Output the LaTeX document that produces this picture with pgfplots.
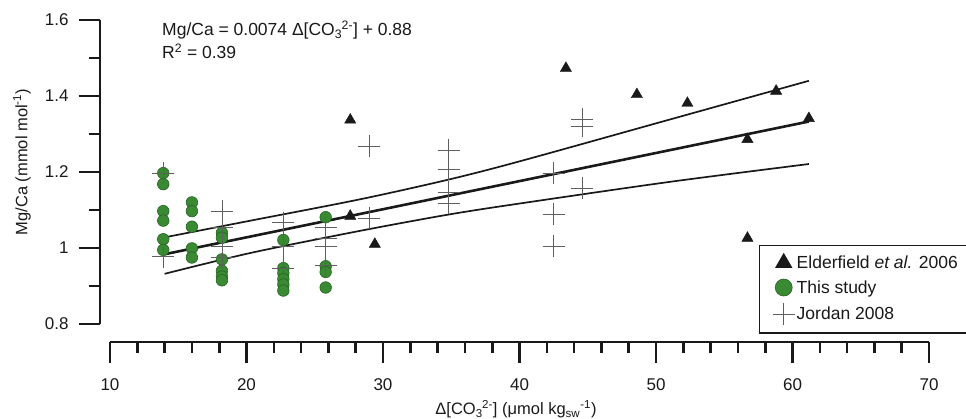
\documentclass[border=0pt]{standalone}
\usepackage{pgfplots}
\pgfplotsset{compat=1.18}
\usepackage{fontspec}
\setmainfont{Liberation Sans}

\definecolor{ink}{RGB}{25,25,25}
\definecolor{studygreen}{RGB}{58,138,52}
\definecolor{studyedge}{RGB}{38,98,34}
\definecolor{crossgray}{RGB}{95,95,95}

% carbonate ion with its sub- and superscript
\newcommand{\carb}{[CO\textsubscript{3}\kern-0.5pt\textsuperscript{2-}]}

% Elderfield et al. 2006
\pgfplotstableread{
x y
27.6 1.337
27.6 1.084
29.4 1.010
43.4 1.473
48.6 1.404
52.3 1.381
58.8 1.413
61.2 1.341
56.7 1.286
56.7 1.026
}\elderfield

% This study
\pgfplotstableread{
x y
13.9 1.197
13.9 1.168
13.9 1.097
13.9 1.072
13.9 1.023
13.9 0.995
16.0 1.120
16.0 1.097
16.0 1.056
16.0 0.999
16.0 0.975
18.2 1.040
18.2 1.027
18.2 0.970
18.2 0.940
18.2 0.925
18.2 0.915
22.7 1.021
22.7 0.947
22.7 0.934
22.7 0.918
22.7 0.904
22.7 0.888
25.8 1.081
25.8 0.952
25.8 0.937
25.8 0.896
}\thisstudy

% Jordan 2008
\pgfplotstableread{
x y
13.9 1.197
13.9 0.977
18.2 1.097
18.2 1.054
18.2 1.005
18.2 0.976
22.7 1.067
22.7 1.005
22.7 0.947
25.8 1.054
25.8 1.025
25.8 1.005
25.8 0.955
29.0 1.268
29.0 1.078
34.8 1.258
34.8 1.208
34.8 1.147
34.8 1.118
42.5 1.197
42.5 1.089
42.5 1.005
44.6 1.339
44.6 1.321
44.6 1.157
}\jordan

% regression line and its confidence band
\pgfplotstableread{
x y
14.0 0.9836
61.2 1.3329
}\fitline
\pgfplotstableread{
x y
14.0 1.028
20.3 1.072
28.3 1.128
34.8 1.180
40.0 1.228
51.0 1.338
61.2 1.440
}\upperband
\pgfplotstableread{
x y
14.0 0.932
20.3 0.987
28.3 1.045
34.8 1.088
40.0 1.117
51.0 1.174
61.2 1.221
}\lowerband

\begin{document}
\begin{tikzpicture}[x=1pt,y=1pt]
\begin{axis}[
  at={(110pt,95pt)}, anchor=south west,
  scale only axis, width=819pt, height=304pt,
  xmin=10, xmax=70, ymin=0.8, ymax=1.6,
  clip=false,
  axis x line*=bottom, axis y line*=left,
  axis x line shift=18pt, axis y line shift=10pt,
  axis line style={line width=2.6pt, ink, -},
  xtick={10,20,30,40,50,60,70}, minor x tick num=4,
  ytick={0.8,1,1.2,1.4,1.6}, minor y tick num=1,
  tick align=outside,
  major tick length=21pt, minor tick length=11pt,
  every tick/.style={line width=2.6pt, ink},
  tick label style={font=\fontsize{17}{20}\selectfont, text=ink},
  xticklabel style={yshift=-12pt},
  yticklabel style={xshift=-7pt},
  /pgf/number format/assume math mode=true,
  legend style={
    at={(0.7924,0.2599)}, anchor=north west,
    draw=ink, line width=1.5pt, fill=white,
    font=\fontsize{17.5}{21}\selectfont, text=ink,
    inner xsep=13pt, inner ysep=8pt, row sep=6.5pt,
    /tikz/every even column/.append style={column sep=20pt},
  },
  legend cell align=left,
]
\addlegendimage{only marks, mark=triangle*, mark size=8.5pt, ink}
\addlegendimage{only marks, mark=*, mark size=8.5pt, studygreen, mark options={draw=studyedge, line width=0.6pt}}
\addlegendimage{only marks, mark=+, mark size=11pt, crossgray, mark options={line width=0.7pt}}
\legend{Elderfield \textit{et al.} 2006, This study, Jordan 2008}

\addplot[forget plot, only marks, mark=*, mark size=5.8pt, studygreen,
  mark options={draw=studyedge, line width=0.6pt}] table {\thisstudy};
\addplot[forget plot, only marks, mark=+, mark size=11pt, crossgray,
  mark options={line width=0.7pt}] table {\jordan};
\addplot[forget plot, ink, line width=1.7pt, smooth, tension=0.5] table {\upperband};
\addplot[forget plot, ink, line width=1.7pt, smooth, tension=0.5] table {\lowerband};
\addplot[forget plot, ink, line width=2.6pt] table {\fitline};
\addplot[forget plot, only marks, mark=triangle*, mark size=6.5pt, ink] table {\elderfield};
\end{axis}

\node[anchor=base west, text=ink, font=\fontsize{17.5}{21}\selectfont, inner sep=0pt]
  at (162pt,383pt) {Mg/Ca = 0.0074 Δ\carb{} + 0.88};
\node[anchor=base west, text=ink, font=\fontsize{17.5}{21}\selectfont, inner sep=0pt]
  at (162pt,360pt) {R\textsuperscript{2} = 0.39};
\node[rotate=90, text=ink, font=\fontsize{16.5}{20}\selectfont]
  at (22pt,257pt) {Mg/Ca (mmol mol\textsuperscript{-1})};
\node[text=ink, font=\fontsize{16.5}{20}\selectfont]
  at (516pt,10pt) {Δ\carb{} (μmol kg\textsubscript{sw}\textsuperscript{-1})};

\pgfresetboundingbox
\useasboundingbox (0pt,0pt) rectangle (966pt,419pt);
\end{tikzpicture}
\end{document}
